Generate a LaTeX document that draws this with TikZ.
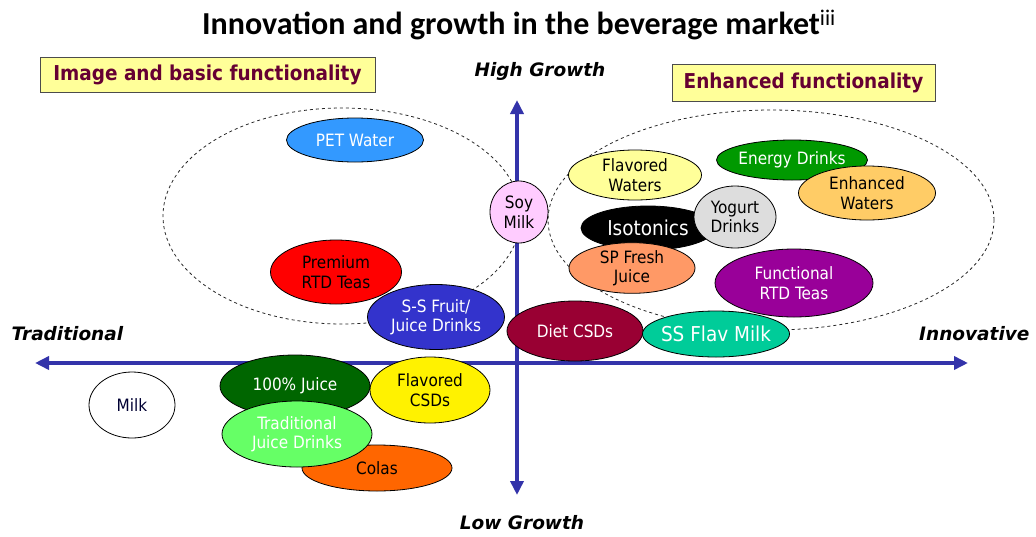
\documentclass[tikz,border=0pt]{standalone}
\usepackage{fontspec}
\setmainfont{Carlito}
\newfontfamily\tahoma{DejaVu Sans Condensed}
\newfontfamily\verdana{DejaVu Sans}
\usetikzlibrary{shapes.geometric,arrows.meta}

\definecolor{axisblue}{RGB}{51,51,170}
\definecolor{labelred}{RGB}{102,0,51}
\definecolor{paleyellow}{RGB}{255,255,153}
\definecolor{petblue}{RGB}{51,153,255}
\definecolor{fruitblue}{RGB}{51,51,204}
\definecolor{soypink}{RGB}{255,204,255}
\definecolor{energygreen}{RGB}{0,153,0}
\definecolor{enhorange}{RGB}{255,204,102}
\definecolor{yogurtgray}{RGB}{221,221,221}
\definecolor{freshorange}{RGB}{255,153,102}
\definecolor{teapurple}{RGB}{153,0,153}
\definecolor{dietred}{RGB}{153,0,51}
\definecolor{flavteal}{RGB}{0,204,153}
\definecolor{juicegreen}{RGB}{0,102,0}
\definecolor{tradgreen}{RGB}{102,255,102}
\definecolor{colaorange}{RGB}{255,102,0}

\begin{document}
\begin{tikzpicture}[x=1pt,y=-1pt,
		bubble/.style={ellipse,draw=black,line width=0.8pt,inner sep=0pt,align=center,font=\tahoma\fontsize{17}{19.5}\selectfont},
		group/.style={ellipse,draw=black!85,dashed,line width=0.8pt,inner sep=0pt},
		tag/.style={draw=black!70,fill=paleyellow,text=labelred,inner sep=0pt,font=\tahoma\bfseries\fontsize{20.5}{22}\selectfont},
		axislabel/.style={font=\verdana\bfseries\itshape\fontsize{18.5}{20}\selectfont},
		axis/.style={axisblue,line width=3.5pt,{Triangle[length=14pt,width=13pt]}-{Triangle[length=14pt,width=13pt]}}]
		\useasboundingbox (0,0) rectangle (1036,536);

		% heading and the two segment tags
		\node[font=\bfseries\fontsize{32}{34}\selectfont] (title) at (519,25) {Innovation and growth in the beverage market\textsuperscript{\mdseries iii}};
		\node[tag,minimum width=335,minimum height=35] (basictag) at (207.5,74.5) {Image and basic functionality};
		\node[tag,minimum width=263,minimum height=37] (enhtag) at (803.5,82.5) {Enhanced functionality};

		% dashed groupings
		\node[group,minimum width=358,minimum height=216] (basic) at (342,216) {};
		\node[group,minimum width=446,minimum height=220] (enhanced) at (771,220) {};

		% axes
		\coordinate (west) at (35,363);
		\coordinate (east) at (968,363);
		\coordinate (north) at (517,100);
		\coordinate (south) at (517,495);
		\draw[axis] (west) -- (east);
		\draw[axis] (south) -- (north);
		\node[axislabel] (high) at (540,71) {High Growth};
		\node[axislabel] (low) at (522,523) {Low Growth};
		\node[axislabel,anchor=west] (trad) at (8,334) {Traditional};
		\node[axislabel,anchor=east] (innov) at (1033,334) {Innovative};

		% upper left
		\node[bubble,fill=petblue,text=white,minimum width=137,minimum height=44] (pet) at (355,140) {PET Water};
		\node[bubble,fill=red,minimum width=131,minimum height=64] (premium) at (336,272) {Premium\\RTD Teas};
		\node[bubble,fill=fruitblue,text=white,minimum width=137,minimum height=65] (fruit) at (436,317) {S-S Fruit/\\Juice Drinks};

		% upper right
		\node[bubble,fill=soypink,minimum width=58,minimum height=62] (soy) at (519,212) {Soy\\Milk};
		\node[bubble,fill=paleyellow,minimum width=133,minimum height=50] (flavwater) at (635,175) {Flavored\\Waters};
		\node[bubble,fill=energygreen,text=white,minimum width=151,minimum height=40,inner xsep=-6pt] (energy) at (792,160) {Energy Drinks};
		\node[bubble,fill=enhorange,minimum width=137,minimum height=54] (enhwater) at (867,193) {Enhanced\\Waters};
		\node[bubble,fill=black,text=white,minimum width=134,minimum height=44,inner xsep=-6pt,font=\tahoma\fontsize{20.5}{22}\selectfont] (iso) at (648,228) {Isotonics};
		\node[bubble,fill=yogurtgray,minimum width=82,minimum height=62] (yogurt) at (735,217) {Yogurt\\Drinks};
		\node[bubble,fill=freshorange,minimum width=126,minimum height=44] (fresh) at (632,268) {SP Fresh\\Juice};
		\node[bubble,fill=teapurple,text=white,minimum width=158,minimum height=68] (functea) at (794,283) {Functional\\RTD Teas};
		\node[bubble,fill=dietred,text=white,minimum width=136,minimum height=60] (diet) at (575,331) {Diet CSDs};
		\node[bubble,fill=flavteal,text=white,minimum width=147,minimum height=46,inner xsep=-14pt,font=\tahoma\fontsize{20.5}{22}\selectfont] (flavmilk) at (716,334) {SS Flav Milk};

		% lower left
		\node[bubble,fill=white,text=black!80!blue,minimum width=86,minimum height=66] (milk) at (132,405) {Milk};
		\node[bubble,fill=colaorange,minimum width=150,minimum height=46] (colas) at (377,468) {Colas};
		\node[bubble,fill=juicegreen,text=white,minimum width=150,minimum height=62] (juice) at (295,386) {100\% Juice};
		\node[bubble,fill=yellow,minimum width=120,minimum height=66] (flavcsd) at (430,390) {Flavored\\CSDs};
		\node[bubble,fill=tradgreen,text=white,minimum width=150,minimum height=66] (tradjuice) at (297,434) {Traditional\\Juice Drinks};
	\end{tikzpicture}
\end{document}
